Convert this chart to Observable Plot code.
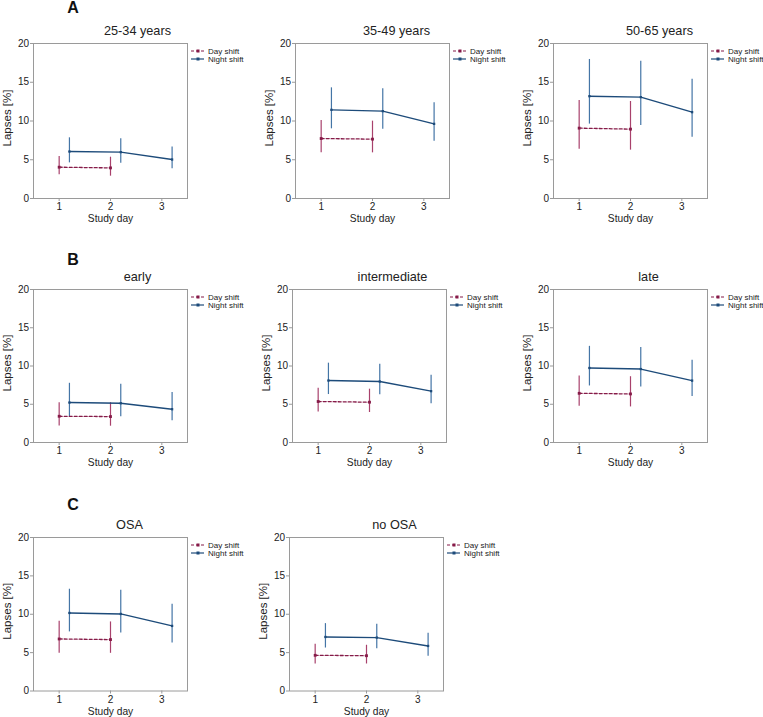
<!DOCTYPE html>
<html><head><meta charset="utf-8">
<script src="https://cdn.jsdelivr.net/npm/d3@7"></script>
<script src="https://cdn.jsdelivr.net/npm/@observablehq/plot@0.6"></script>
<style>
body{margin:0;background:#fff;font-family:"Liberation Sans",Arial,sans-serif}
#root{position:relative;width:763px;height:717px;overflow:hidden;background:#fff}
.p{position:absolute}
#letters{position:absolute;left:0;top:0;pointer-events:none}
</style></head><body><div id="root"></div>
<script>
// ---- data ----
const groups = ["25-34 years","35-49 years","50-65 years","early","intermediate","late","OSA","no OSA"];
const panelLetters = ["A","B","C"];
const seriesNames = ["Day shift","Night shift"];
const yTicks = [0,5,10,15,20];
const xTicks = [1,2,3];
const dayDays = [1,2];
const nightDays = [1,2,3];
const dayMean  = [[4.04,3.95],[7.74,7.66],[9.08,8.95],[3.43,3.39],[5.36,5.27],[6.43,6.35],[6.78,6.70],[4.65,4.60]];
const dayLow   = [[3.05,2.88],[5.89,5.89],[6.37,6.24],[2.17,2.13],[4.00,3.92],[4.74,4.65],[4.91,4.91],[3.52,3.52]];
const dayHigh  = [[5.42,5.33],[10.06,9.98],[12.65,12.52],[5.20,5.20],[7.10,6.97],[8.70,8.60],[9.09,9.00],[6.09,5.96]];
const nightMean = [[6.06,5.98,5.03],[11.44,11.27,9.63],[13.20,13.08,11.14],[5.22,5.13,4.35],[8.10,7.97,6.71],[9.74,9.60,8.09],[10.17,10.04,8.48],[7.04,6.96,5.87]];
const nightLow  = [[4.60,4.56,3.83],[8.99,8.95,7.40],[9.60,9.42,7.90],[3.40,3.35,2.83],[6.27,6.23,5.05],[7.39,7.26,6.00],[7.70,7.57,6.26],[5.60,5.52,4.52]];
const nightHigh = [[7.83,7.70,6.63],[14.28,14.15,12.34],[17.94,17.70,15.40],[7.74,7.60,6.52],[10.37,10.24,8.80],[12.57,12.43,10.74],[13.26,13.13,11.30],[8.78,8.70,7.52]];

// ---- layout (positions, not data) ----
const frameLeft = [33,295,553,33,292,553,33,289];
const frameTop  = [43,43,43,289,289,289,537,537];
const frameH    = [155,155,155,153,153,153,153.5,153.5];
const titleX    = [137,396,659,137,392,648,129,394];
const letterPos = [[73,13],[73,265],[73,510]];
const FW = 154, ML = 40, MR = 80, MT = 26, MB = 34;
const dayColor = "#861b48", dayBar = "#a8416c";
const nightColor = "#1d4b7a", nightBar = "#4475a6";
const dodge = 0.2;

const root = document.getElementById("root");

groups.forEach((g, i) => {
  const day = dayDays.map((d, j) => ({x: d, m: dayMean[i][j], lo: dayLow[i][j], hi: dayHigh[i][j]}));
  const night = nightDays.map((d, j) => ({x: d + dodge, m: nightMean[i][j], lo: nightLow[i][j], hi: nightHigh[i][j]}));
  const fh = frameH[i];
  const fc = frameLeft[i] + FW / 2;
  const svg = Plot.plot({
    width: ML + FW + MR, height: MT + fh + MB,
    marginLeft: ML, marginRight: MR, marginTop: MT, marginBottom: MB,
    style: {fontFamily: "Liberation Sans, Arial, sans-serif", color: "#222", background: "transparent", overflow: "visible"},
    x: {domain: [0.5, 3.5]},
    y: {domain: [0, 20]},
    marks: [
      Plot.frame({stroke: "#9a9a9a", strokeWidth: 1}),
      Plot.axisY({ticks: yTicks, tickSize: 3, tickPadding: 1.5, fontSize: 10, label: null, stroke: "#9a9a9a"}),
      Plot.axisX({ticks: xTicks, tickFormat: "d", tickSize: 3, tickPadding: 1.5, fontSize: 10, label: null, stroke: "#9a9a9a"}),
      Plot.text(["Lapses [%]"], {frameAnchor: "left", lineAnchor: "middle", textAnchor: "middle", rotate: -90, dx: -26.5, dy: -3, fontSize: 11.5, fill: "#222"}),
      Plot.text(["Study day"], {frameAnchor: "bottom", lineAnchor: "middle", dy: 20.5, fontSize: 10.2, fill: "#222"}),
      Plot.text([g], {frameAnchor: "top", lineAnchor: "middle", dx: titleX[i] - fc, dy: -12.5, fontSize: 12.7, fill: "#222"}),
      Plot.ruleX(day, {x: "x", y1: "lo", y2: "hi", stroke: dayBar, strokeWidth: 1.2}),
      Plot.ruleX(night, {x: "x", y1: "lo", y2: "hi", stroke: nightBar, strokeWidth: 1.2}),
      Plot.line(day, {x: "x", y: "m", stroke: dayColor, strokeWidth: 1.3, strokeDasharray: "3,2"}),
      Plot.line(night, {x: "x", y: "m", stroke: nightColor, strokeWidth: 1.4}),
      Plot.dot(day, {x: "x", y: "m", symbol: "square", r: 1.6, fill: dayColor, stroke: "none"}),
      Plot.dot(night, {x: "x", y: "m", symbol: "square", r: 1.3, fill: nightColor, stroke: "none"})
    ]
  });
  svg.classList.add("p");
  svg.style.left = (frameLeft[i] - ML) + "px";
  svg.style.top = (frameTop[i] - MT) + "px";
  // legend
  const s = d3.select(svg);
  const fr = ML + FW;
  const rows = [
    {name: seriesNames[0], c: dayColor, dash: "3,2", y: MT + 8},
    {name: seriesNames[1], c: nightColor, dash: null, y: MT + 16}
  ];
  const lg = s.append("g").attr("font-size", 8).attr("text-anchor", "start")
    .attr("font-family", "Liberation Sans, Arial, sans-serif");
  rows.forEach(r => {
    lg.append("line").attr("x1", fr + 4).attr("x2", fr + 17).attr("y1", r.y).attr("y2", r.y)
      .attr("stroke", r.c).attr("stroke-width", 1.2).attr("stroke-dasharray", r.dash);
    lg.append("rect").attr("x", fr + 9.5).attr("y", r.y - 1.5).attr("width", 3).attr("height", 3).attr("fill", r.c);
    lg.append("text").attr("x", fr + 21).attr("y", r.y).attr("dy", "0.35em").attr("text-anchor", "start")
      .attr("fill", "#222").text(r.name);
  });
  root.appendChild(svg);
});

// panel letters
const ov = d3.select(root).append("svg").attr("id", "letters").attr("width", 763).attr("height", 717);
panelLetters.forEach((L, k) => {
  ov.append("text").attr("x", letterPos[k][0]).attr("y", letterPos[k][1]).attr("text-anchor", "middle")
    .attr("font-family", "Liberation Sans, Arial, sans-serif").attr("font-weight", "bold").attr("font-size", 16)
    .attr("fill", "#111").text(L);
});
</script></body></html>
